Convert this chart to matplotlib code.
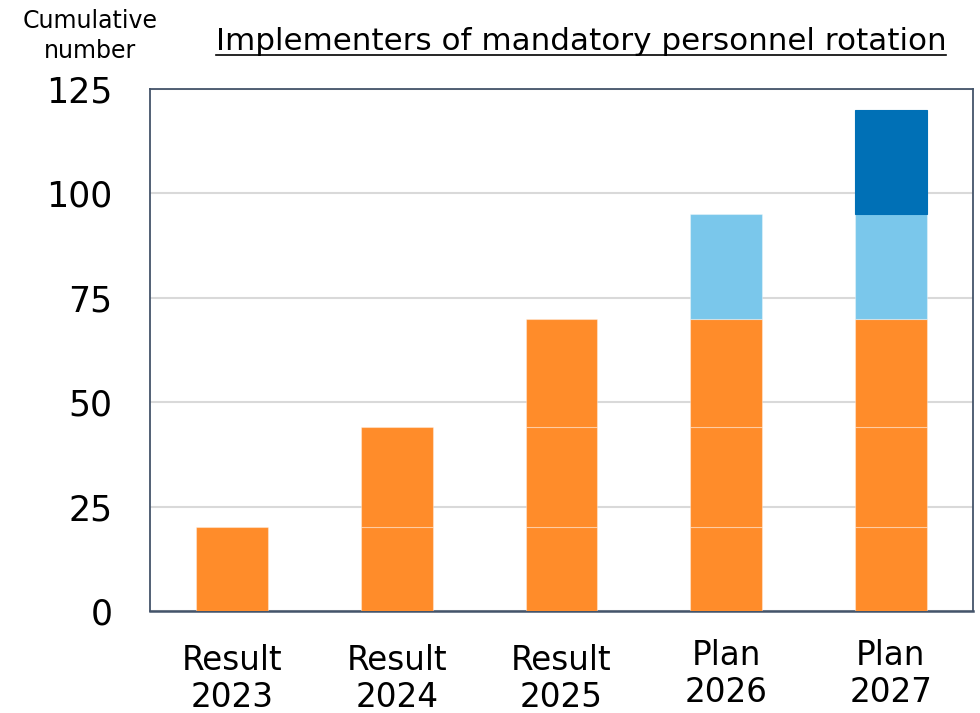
import matplotlib
matplotlib.use("Agg")
import matplotlib.pyplot as plt
from matplotlib.lines import Line2D
from matplotlib.transforms import ScaledTranslation
import numpy as np

categories = ["Result\n2023", "Result\n2024", "Result\n2025", "Plan\n2026", "Plan\n2027"]
seg_2023 = [20, 20, 20, 20, 20]
seg_2024 = [0, 24, 24, 24, 24]
seg_2025 = [0, 0, 26, 26, 26]
seg_2026 = [0, 0, 0, 25, 25]
seg_2027 = [0, 0, 0, 0, 25]
yticks = [0, 25, 50, 75, 100, 125]

series = [seg_2023, seg_2024, seg_2025, seg_2026, seg_2027]
colors = ["#FF8C2A", "#FF8C2A", "#FF8C2A", "#7AC7EB", "#0070B6"]
edges = [(1, 1, 1, 0.35)] * 4 + ["#0070B6"]

plt.rcParams['font.family'] = ['DejaVu Sans']
fig = plt.figure(figsize=(9.8, 7.13), dpi=100)
ax = fig.add_axes([150/980, 1-611/713, 823/980, 522/713])

x = np.arange(len(categories))
bottom = np.zeros(len(categories))
for vals, c, e in zip(series, colors, edges):
    v = np.array(vals, dtype=float)
    mask = v > 0
    ax.bar(x[mask], v[mask], width=0.435, bottom=bottom[mask], color=c,
           edgecolor=e, linewidth=0.8, zorder=3)
    bottom += v

ax.set_xlim(-0.5, len(categories) - 0.5)
ax.set_ylim(0, 125)
ax.set_yticks(yticks)
ax.set_yticklabels([str(t) for t in yticks], fontsize=25)
ax.set_xticks(x)
ax.set_xticklabels([])
ax.tick_params(axis='y', length=0, pad=27)
ax.tick_params(axis='x', length=0)
ax.grid(axis='y', color='#D9D9D9', linewidth=1.5, zorder=0)
for s in ax.spines.values():
    s.set_color('#44546A')
    s.set_linewidth(1.3)
ax.spines['bottom'].set_linewidth(1.8)

xt = ax.get_xaxis_transform()
for i, lab in enumerate(categories):
    dy = 5 if lab.startswith("Plan") else 0
    ax.text(x[i], 0, lab, transform=xt + ScaledTranslation(0, (-33 + dy) / 100, fig.dpi_scale_trans),
            ha='center', va='top', fontsize=23.5, linespacing=1.14)

fig.text(90/980, 1-21/713, "Cumulative", ha='center', va='center', fontsize=17)
fig.text(90/980, 1-51/713, "number", ha='center', va='center', fontsize=17)
title = fig.text(581/980, 1-41/713, "Implementers of mandatory personnel rotation",
                 ha='center', va='center', fontsize=22.3)

fig.canvas.draw()
bb = title.get_window_extent(fig.canvas.get_renderer())
uy = bb.y0 + 1
fig.add_artist(Line2D([bb.x0 / fig.bbox.width, bb.x1 / fig.bbox.width],
                      [uy / fig.bbox.height, uy / fig.bbox.height],
                      transform=fig.transFigure, color='black', linewidth=1.2))

fig.savefig("out.png", dpi=100)
